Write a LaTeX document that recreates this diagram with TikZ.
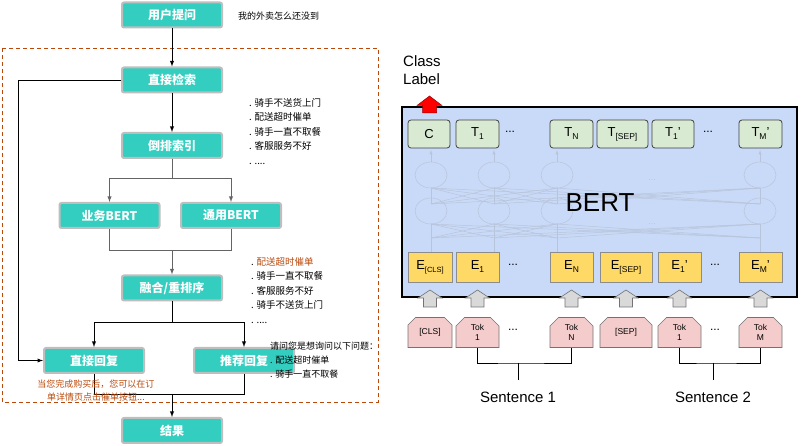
\documentclass[tikz,border=0pt]{standalone}
\usepackage{fontspec}
\setmainfont{Liberation Sans}
\newfontfamily\cjk{Noto Sans CJK SC}
\usepackage{xcolor}
\usepackage{tikz}
\usetikzlibrary{calc}
\usetikzlibrary{arrows}
\usetikzlibrary{arrows.meta}
\usetikzlibrary{shapes}
\usetikzlibrary{shapes.misc}
\usetikzlibrary{positioning}
\tikzset{>=latex}

\definecolor{tealbox}{RGB}{51,206,192}
\definecolor{boxrim}{RGB}{190,190,190}
\definecolor{rust}{RGB}{185,72,10}
\definecolor{bertblue}{RGB}{201,218,248}
\definecolor{outgreen}{RGB}{217,234,211}
\definecolor{embyellow}{RGB}{255,217,102}
\definecolor{tokpink}{RGB}{244,204,204}
\definecolor{arrowgray}{RGB}{217,217,217}
\definecolor{linegray}{RGB}{100,100,100}
\definecolor{faintline}{RGB}{184,196,218}

\newcommand{\fsz}[1]{\fontsize{#1}{#1}\selectfont}
\newcommand{\lsub}[1]{\raisebox{-3pt}{\fsz{8.5}#1}}

\tikzstyle{flow} = [draw=boxrim, line width=2pt, fill=tealbox, rounded corners=2pt, minimum width=100pt, minimum height=25pt, inner sep=0, text=white, font=\cjk\bfseries\fsz{12}]
\tikzstyle{note} = [draw=none, inner sep=0, anchor=north west, align=left, font=\cjk\fontsize{9.5}{14.5}\selectfont]
\tikzstyle{link} = [line width=0.9pt]
\tikzstyle{glink} = [line width=0.9pt, draw=linegray]
\tikzstyle{outbox} = [draw=black!75, line width=0.8pt, fill=outgreen, rounded corners=3pt, minimum height=28pt, inner sep=0, font=\fsz{13}]
\tikzstyle{embbox} = [draw=black!45, line width=0.6pt, fill=embyellow, minimum height=30pt, inner sep=0, font=\fsz{13}]
\tikzstyle{tokbox} = [draw=black!55, line width=0.6pt, fill=tokpink, chamfered rectangle, chamfered rectangle corners={north west,north east}, chamfered rectangle xsep=5pt, minimum height=30pt, inner sep=0, align=center, font=\fontsize{8.5}{10}\selectfont]
\tikzstyle{garrow} = [draw=black!55, fill=arrowgray, line width=0.6pt]
\tikzstyle{clsarrow} = [draw=red!60!black, fill=red, line width=0.5pt]
\tikzstyle{faint} = [draw=faintline, line width=0.5pt]
\tikzset{
  upblock/.pic={\path [pic actions] (-6.5,8.5) -- (-6.5,-0.5) -- (-12,-0.5) -- (0,-8.5) -- (12,-0.5) -- (6.5,-0.5) -- (6.5,8.5) -- cycle;},
  clsblock/.pic={\path [pic actions] (-7,8.5) -- (-7,1) -- (-12.5,1) -- (0,-8.5) -- (12.5,1) -- (7,1) -- (7,8.5) -- cycle;}
}

\begin{document}
\begin{tikzpicture}[x=1pt, y=-1pt]
\useasboundingbox (0,0) rectangle (804,446);

% flow on the left
\draw [rust, dashed, line width=0.9pt, dash pattern=on 4pt off 3pt] (2,48) rectangle (378,402);
\node [flow] (ask) at (172,15) {用户提问};
\node [flow] (search) at (172,80) {直接检索};
\node [flow] (inv) at (172,145.5) {倒排索引};
\node [flow] (biz) at (109.5,215.5) {业务BERT};
\node [flow] (gen) at (231,215.5) {通用BERT};
\node [flow] (fuse) at (172,288) {融合/重排序};
\node [flow] (direct) at (94,360.5) {直接回复};
\node [flow] (recom) at (244,360.5) {推荐回复};
\node [flow] (result) at (172,430.5) {结果};

\coordinate (split1) at (172,178);
\coordinate (merge1) at (172,250);
\coordinate (split2) at (172,322);
\coordinate (merge2) at (172,394);
\coordinate (loopa) at (18,80);

\draw [-latex, link] (ask) to (search);
\draw [-latex, link] (search) to (inv);
\draw [glink] (inv) to (split1);
\draw [-latex, glink] (split1) -| (biz);
\draw [-latex, glink] (split1) -| (gen);
\draw [glink] (biz) |- (merge1);
\draw [glink] (gen) |- (merge1);
\draw [-latex, glink] (merge1) to (fuse);
\draw [link] (fuse) to (split2);
\draw [-latex, link] (split2) -| (direct);
\draw [-latex, link] (split2) -| (recom);
\draw [-latex, link] (search.west) -- (loopa) |- (direct.west);
\draw [link] (direct) |- (merge2);
\draw [link] (recom) |- (merge2);
\draw [-latex, link] (merge2) to (result);

\node [draw=none, inner sep=0, anchor=west, font=\cjk\fsz{9}] (query) at (238,16) {我的外卖怎么还没到};
\node [note] (cands) at (249,98) {. 骑手不送货上门\\. 配送超时催单\\. 骑手一直不取餐\\. 客服服务不好\\. ....};
\node [note] (ranked) at (251,257) {. \textcolor{rust}{配送超时催单}\\. 骑手一直不取餐\\. 客服服务不好\\. 骑手不送货上门\\. ....};
\node [note, font=\cjk\fontsize{9}{14}\selectfont] (hint) at (270,342) {请问您是想询问以下问题：\\. 配送超时催单\\. 骑手一直不取餐};
\node [draw=none, inner sep=0, anchor=north, align=center, text=rust, font=\cjk\fontsize{9}{13.5}\selectfont] (answer) at (96,379.5) {当您完成购买后，您可以在订\\单详情页点击催单按钮...};

% BERT on the right
\node [draw=none, inner sep=0, anchor=north west, align=left, font=\fontsize{15}{18}\selectfont] (cls) at (403,55) {Class\\Label};
\node [draw=black, line width=2.5pt, fill=bertblue, minimum width=395pt, minimum height=190pt, inner sep=0] (bert) at (599.5,202) {};

\foreach \a in {431,494,557,760} {
  \draw [faint] (\a,252) -- (\a,238);
  \draw [faint] (\a,198) -- (\a,204);
  \draw [faint, -latex] (\a,162) -- (\a,150);
  \foreach \b in {431,494,557,760} {
    \draw [faint] (\a,238) -- (\b,224);
    \draw [faint] (\a,204) -- (\b,188);
  }
  \draw [faint] (\a,175) ellipse (16 and 13);
  \draw [faint] (\a,211) ellipse (16 and 13);
}
\node [draw=none, text=faintline, font=\fsz{9}] (fd1) at (652,180) {...};
\node [draw=none, text=faintline, font=\fsz{9}] (fd2) at (652,224) {...};
\node [draw=none, font=\fsz{26}] (bertlabel) at (600,203) {BERT};

\node [outbox, minimum width=42pt] (tc) at (429,134) {C};
\node [outbox, minimum width=43pt] (t1) at (477.5,134) {T\lsub{1}};
\node [draw=none, font=\fsz{12}] (tdots1) at (510,132) {...};
\node [outbox, minimum width=43pt] (tn) at (571.5,134) {T\lsub{N}};
\node [outbox, minimum width=51pt] (tsep) at (622.5,134) {T\lsub{[SEP]}};
\node [outbox, minimum width=42pt] (t1p) at (673,134) {T\lsub{1}'};
\node [draw=none, font=\fsz{12}] (tdots2) at (708,132) {...};
\node [outbox, minimum width=43pt] (tmp) at (760.5,134) {T\lsub{M}'};

\node [embbox, minimum width=44pt] (ecls) at (430,267) {E\raisebox{-3pt}{\fsz{7.5}[CLS]}};
\node [embbox, minimum width=43pt] (e1) at (477.5,267) {E\lsub{1}};
\node [draw=none, font=\fsz{12}] (edots1) at (513,265) {...};
\node [embbox, minimum width=43pt] (en) at (571.5,267) {E\lsub{N}};
\node [embbox, minimum width=52pt] (esep) at (626,267) {E\lsub{[SEP]}};
\node [embbox, minimum width=43pt] (e1p) at (679.5,267) {E\lsub{1}'};
\node [draw=none, font=\fsz{12}] (edots2) at (715,265) {...};
\node [embbox, minimum width=43pt] (emp) at (760.5,267) {E\lsub{M}'};

\node [tokbox, minimum width=44pt] (kcls) at (430,332.5) {[CLS]};
\node [tokbox, minimum width=43pt] (k1) at (477.5,332.5) {Tok\\1};
\node [draw=none, font=\fsz{12}] (kdots1) at (513,330) {...};
\node [tokbox, minimum width=43pt] (kn) at (571.5,332.5) {Tok\\N};
\node [tokbox, minimum width=52pt] (ksep) at (626,332.5) {[SEP]};
\node [tokbox, minimum width=43pt] (k1p) at (679.5,332.5) {Tok\\1};
\node [draw=none, font=\fsz{12}] (kdots2) at (715,330) {...};
\node [tokbox, minimum width=43pt] (kmp) at (760.5,332.5) {Tok\\M};

\pic [garrow] (ga1) at (ecls |- 0,298.5) {upblock};
\pic [garrow] (ga2) at (e1 |- 0,298.5) {upblock};
\pic [garrow] (ga3) at (en |- 0,298.5) {upblock};
\pic [garrow] (ga4) at (esep |- 0,298.5) {upblock};
\pic [garrow] (ga5) at (e1p |- 0,298.5) {upblock};
\pic [garrow] (ga6) at (emp |- 0,298.5) {upblock};
\pic [clsarrow] (up) at (429.5,104.5) {clsblock};

\coordinate (s1) at (518,363);
\coordinate (s1tip) at (518,380);
\coordinate (s2) at (713,363);
\coordinate (s2tip) at (713,380);
\draw [line width=0.7pt] (k1) |- (s1) -| (kn);
\draw [line width=0.7pt] (s1) -- (s1tip);
\draw [line width=0.7pt] (k1p) |- (s2) -| (kmp);
\draw [line width=0.7pt] (s2) -- (s2tip);
\node [draw=none, font=\fsz{15}] (sent1) at (518,397) {Sentence 1};
\node [draw=none, font=\fsz{15}] (sent2) at (713,397) {Sentence 2};
\end{tikzpicture}
\end{document}
